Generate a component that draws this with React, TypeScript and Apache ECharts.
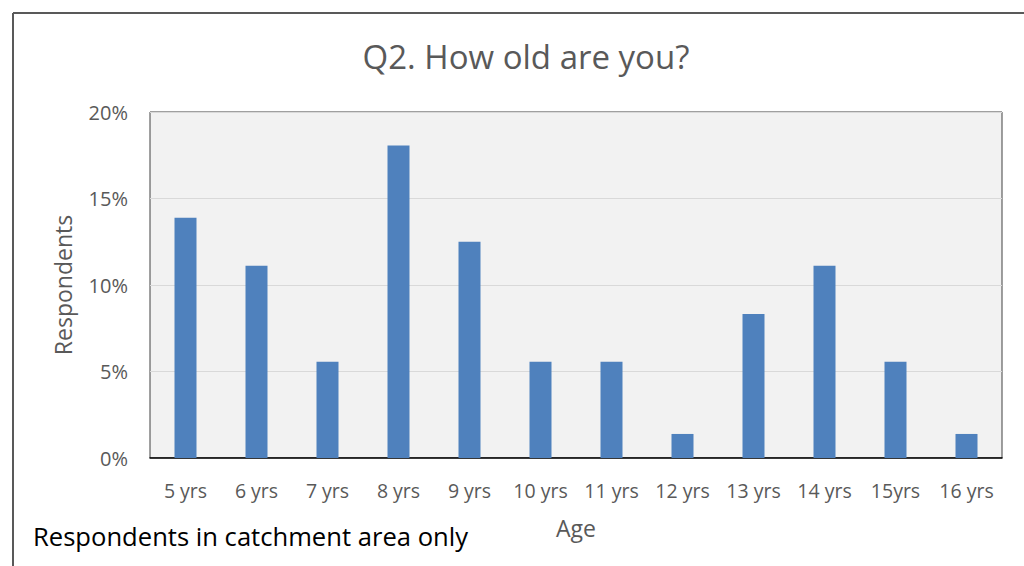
import React, { useEffect, useRef } from "react";
import * as echarts from "echarts";

const categories = ["5 yrs", "6 yrs", "7 yrs", "8 yrs", "9 yrs", "10 yrs", "11 yrs", "12 yrs", "13 yrs", "14 yrs", "15yrs", "16 yrs"];
const respondents = [13.89, 11.11, 5.56, 18.06, 12.5, 5.56, 5.56, 1.39, 8.33, 11.11, 5.56, 1.39];
const titleText = "Q2. How old are you?";
const footnote = "Respondents in catchment area only";

const FONT = "'Open Sans', 'Noto Sans', sans-serif";

export default function App() {
  const ref = useRef<HTMLDivElement>(null);
  useEffect(() => {
    if (!ref.current) return;
    const chart = echarts.init(ref.current, null, { renderer: "svg" });
    chart.setOption({
      animation: false,
      backgroundColor: "#ffffff",
      textStyle: { fontFamily: FONT },
      title: {
        text: titleText,
        left: 521,
        top: 35,
        textAlign: "center",
        textStyle: { fontSize: 33, fontWeight: "normal", color: "#595959", fontFamily: FONT },
      },
      grid: { left: 150, top: 112, right: 22, bottom: 108, show: true, backgroundColor: "#f2f2f2", borderColor: "#404040", borderWidth: 1 },
      xAxis: {
        type: "category",
        data: categories,
        name: "Age",
        nameLocation: "middle",
        nameGap: 58,
        nameTextStyle: { fontSize: 23, color: "#595959", fontFamily: FONT },
        axisLine: { show: true, lineStyle: { color: "#000000", width: 1.5 } },
        axisTick: { show: false },
        axisLabel: { fontSize: 19.5, color: "#595959", margin: 22, fontFamily: FONT },
      },
      yAxis: {
        type: "value",
        min: 0,
        max: 20,
        interval: 5,
        name: "Respondents",
        nameLocation: "middle",
        nameGap: 76,
        nameRotate: 90,
        nameTextStyle: { fontSize: 23, color: "#595959", fontFamily: FONT },
        axisLine: { show: false },
        axisTick: { show: false },
        axisLabel: { fontSize: 20, color: "#595959", margin: 22, formatter: "{value}%", fontFamily: FONT },
        splitLine: { lineStyle: { color: "#d9d9d9", width: 1 } },
      },
      series: [
        {
          type: "bar",
          data: respondents,
          barWidth: 22,
          itemStyle: { color: "#4f81bd" },
        },
      ],
      graphic: [
        { type: "line", shape: { x1: 13, y1: 13, x2: 1024, y2: 13 }, style: { stroke: "#595959", lineWidth: 2 } },
        { type: "line", shape: { x1: 13, y1: 13, x2: 13, y2: 566 }, style: { stroke: "#595959", lineWidth: 2 } },
        { type: "text", left: 33, top: 523, style: { text: footnote, fontSize: 25.6, fill: "#000000", fontFamily: FONT } },
      ],
    });
    return () => chart.dispose();
  }, []);
  return <div ref={ref} style={{ position: "absolute", left: 0, top: 0, width: 1024, height: 566 }} />;
}
